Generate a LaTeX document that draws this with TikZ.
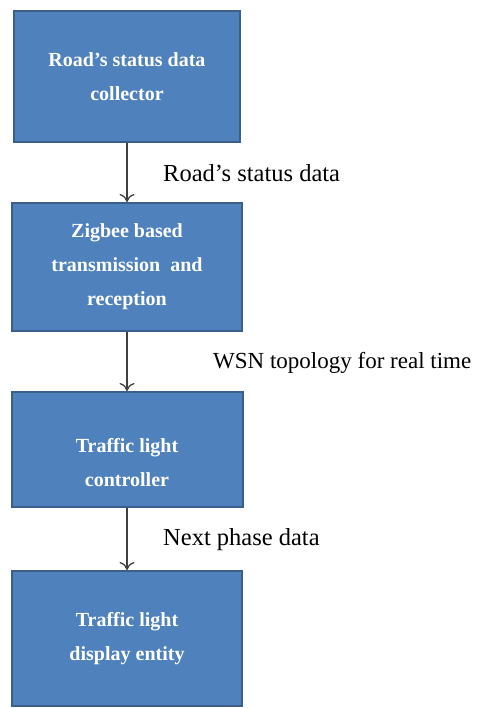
\documentclass[tikz,border=0pt]{standalone}
\usepackage{fontspec}
\setmainfont{Liberation Serif}
\usetikzlibrary{positioning,arrows.meta}
\definecolor{blockFill}{HTML}{4F81BD}
\definecolor{blockLine}{HTML}{3A5F8B}
\definecolor{flowLine}{HTML}{404040}

\begin{document}
\begin{tikzpicture}[
  x=1pt, y=1pt,
  block text/.style={
    text=white,
    align=center,
    font=\fontsize{20}{34}\selectfont\bfseries,
  },
  block/.style={
    block text,
    draw=blockLine,
    line width=2pt,
    fill=blockFill,
  },
  flow/.style={
    draw=flowLine,
    line width=1.3pt,
    -{To[length=8pt,width=15pt]},
  },
  flow label/.style={
    anchor=base west,
    inner sep=0pt,
    font=\fontsize{24.5}{28}\selectfont,
  }
]
\useasboundingbox (0,0) rectangle (483,-708);
\node[block,minimum width=226,minimum height=131] (collector) at (127,-76.5)
  {Road’s status data\\collector};
\node[block,minimum width=230,minimum height=128] (zigbee) at (127,-267)
  {Zigbee based\\transmission\ \ and\\reception};
\node[block,minimum width=231,minimum height=115] (controller) at (127,-449.5) {};
\node[block text] (controller text) at (127,-463) {Traffic light\\controller};
\node[block,minimum width=230,minimum height=135] (display) at (127,-638.5)
  {Traffic light\\display\ entity};

% data flow between the stages
\draw[flow] (collector.south) -- (zigbee.north);
\draw[flow] (zigbee.south) -- (controller.north);
\draw[flow] (controller.south) -- (display.north);

\node[flow label] (road data) at (163,-182) {Road’s status data};
\node[flow label,font=\fontsize{23}{28}\selectfont] (wsn) at (213,-368)
  {WSN topology for real time};
\node[flow label] (next phase) at (163,-545) {Next phase data};
\end{tikzpicture}
\end{document}
